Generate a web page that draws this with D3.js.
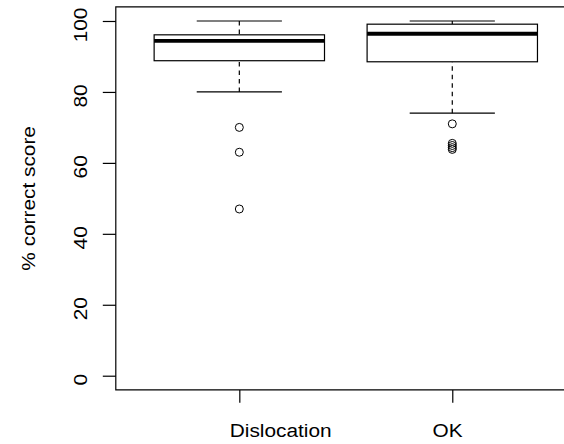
<!DOCTYPE html>
<html>
<head>
<meta charset="utf-8">
<script src="https://cdn.jsdelivr.net/npm/d3@7"></script>
<style>
  html, body { margin: 0; padding: 0; background: #fff; overflow: hidden; }
  svg { display: block; }
  text { font-family: "Liberation Sans", Arial, Helvetica, sans-serif; fill: #000; }
</style>
</head>
<body>
<svg id="chart" width="564" height="444"></svg>
<script>
// ---- data ----
const categories = ["Dislocation", "OK"];
const lowerWhisker = [80, 74];
const lowerQuartile = [88.8, 88.5];
const medians = [94.4, 96.4];
const upperQuartile = [96.1, 99.1];
const upperWhisker = [100, 100];
const outliersDislocation = [70, 63, 47];
const outliersOK = [71, 65.5, 64.9, 64.3, 63.8];
const yTicks = [0, 20, 40, 60, 80, 100];
const yLabel = "% correct score";

(function () {
const svg = d3.select("#chart");
const pLeft = 115.8, pRight = 575.8, pTop = 6.8, pBottom = 389.9;
const fontSize = 18.6, stretch = 1.12;

const x = d3.scaleLinear().domain([0.42, 2.58]).range([pLeft, pRight]);
const y = d3.scaleLinear().domain([-4, 104]).range([pBottom, pTop]);

const outliers = [outliersDislocation, outliersOK];
const boxes = categories.map((c, i) => ({
  cat: c, pos: i + 1,
  lo: lowerWhisker[i], q1: lowerQuartile[i], med: medians[i],
  q3: upperQuartile[i], hi: upperWhisker[i], out: outliers[i]
}));

const lw = 1.2;
const g = svg.append("g");

boxes.forEach(b => {
  const cx = x(b.pos);
  g.append("line").attr("x1", cx).attr("x2", cx).attr("y1", y(b.lo)).attr("y2", y(b.q1))
    .attr("stroke", "#000").attr("stroke-width", lw).attr("stroke-dasharray", "4.5,4");
  g.append("line").attr("x1", cx).attr("x2", cx).attr("y1", y(b.hi)).attr("y2", y(b.q3))
    .attr("stroke", "#000").attr("stroke-width", lw).attr("stroke-dasharray", "4.5,4");
  [b.lo, b.hi].forEach(v => {
    g.append("line").attr("x1", x(b.pos - 0.2)).attr("x2", x(b.pos + 0.2))
      .attr("y1", y(v)).attr("y2", y(v)).attr("stroke", "#000").attr("stroke-width", lw);
  });
  g.append("rect").attr("x", x(b.pos - 0.4)).attr("width", x(b.pos + 0.4) - x(b.pos - 0.4))
    .attr("y", y(b.q3)).attr("height", y(b.q1) - y(b.q3))
    .attr("fill", "#fff").attr("stroke", "#000").attr("stroke-width", lw);
  g.append("line").attr("x1", x(b.pos - 0.4)).attr("x2", x(b.pos + 0.4))
    .attr("y1", y(b.med)).attr("y2", y(b.med)).attr("stroke", "#000").attr("stroke-width", 3.8);
  g.selectAll(null).data(b.out).enter().append("circle")
    .attr("cx", cx).attr("cy", d => y(d)).attr("r", 4)
    .attr("fill", "none").attr("stroke", "#000").attr("stroke-width", 1);
});

// frame (right side lies beyond the visible area)
svg.append("path")
  .attr("d", `M${pRight},${pTop}H${pLeft}V${pBottom}H${pRight}`)
  .attr("fill", "none").attr("stroke", "#000").attr("stroke-width", lw);

const yAxis = svg.append("g").attr("transform", `translate(${pLeft},0)`)
  .call(d3.axisLeft(y).tickValues(yTicks).tickSize(13).tickSizeOuter(0).tickFormat(d3.format("d")));
yAxis.select(".domain").remove();
yAxis.selectAll("line").attr("stroke", "#000").attr("stroke-width", lw);
yAxis.selectAll("text")
  .attr("x", null).attr("dy", null)
  .attr("text-anchor", "middle")
  .attr("font-size", fontSize)
  .attr("fill", "#000")
  .attr("transform", `translate(${87.3 - pLeft},3.5) rotate(-90) scale(${stretch},1)`);
yAxis.attr("font-family", null).attr("font-size", null);

const labelShift = { "Dislocation": 40.9, "OK": -5.3 };
const xAxis = svg.append("g").attr("transform", `translate(0,${pBottom})`)
  .call(d3.axisBottom(x).tickValues([1, 2]).tickSize(12.8).tickSizeOuter(0)
    .tickFormat(d => categories[d - 1]));
xAxis.select(".domain").remove();
xAxis.selectAll("line").attr("stroke", "#000").attr("stroke-width", lw);
xAxis.selectAll("text")
  .attr("y", null).attr("dy", null)
  .attr("text-anchor", "middle")
  .attr("font-size", fontSize)
  .attr("fill", "#000")
  .attr("transform", d => `translate(${labelShift[categories[d - 1]]},${437 - pBottom}) scale(${stretch},1)`);
xAxis.attr("font-family", null).attr("font-size", null);

svg.append("text")
  .attr("text-anchor", "middle")
  .attr("font-size", fontSize)
  .attr("transform", `translate(35,${(pTop + pBottom) / 2}) rotate(-90) scale(${stretch},1)`)
  .text(yLabel);
})();
</script>
</body>
</html>
